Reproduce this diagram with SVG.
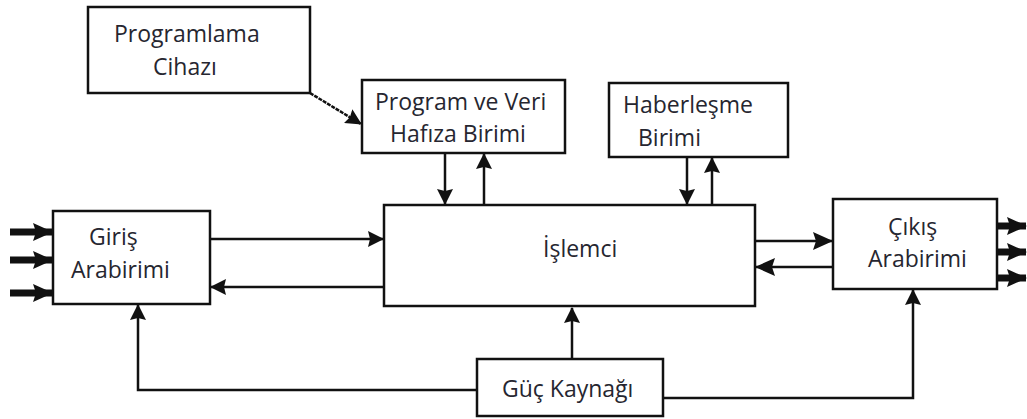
<svg xmlns="http://www.w3.org/2000/svg" width="1027" height="419" viewBox="0 0 1027 419">
<style>
.box{fill:#fff;stroke:#111;stroke-width:2.5}
.t{font-family:"Open Sans","Noto Sans",sans-serif;font-size:23px;fill:#262630}
.c{fill:none;stroke:#111;stroke-width:2.5}
.th{fill:none;stroke:#111;stroke-width:7}
</style>
<defs>
<marker id="a" markerUnits="userSpaceOnUse" markerWidth="16" markerHeight="16" viewBox="0 0 16 16" refX="15" refY="8" orient="auto">
<path d="M0,0 L16,8 L0,16 L2,8 z" fill="#111"/>
</marker>
<marker id="b" markerUnits="userSpaceOnUse" markerWidth="20" markerHeight="18" viewBox="0 0 20 18" refX="19" refY="9" orient="auto">
<path d="M0,0 L20,9 L0,18 L3,9 z" fill="#111"/>
</marker>
</defs>
<rect width="1027" height="419" fill="#fff"/>
<g id="connectors">
<line class="c" x1="310" y1="93" x2="361" y2="124" stroke-dasharray="4,1" marker-end="url(#a)"/>
<line class="c" x1="445" y1="153" x2="445" y2="204" marker-end="url(#a)"/>
<line class="c" x1="484" y1="205" x2="484" y2="154" marker-end="url(#a)"/>
<line class="c" x1="687" y1="157" x2="687" y2="204" marker-end="url(#a)"/>
<line class="c" x1="712" y1="205" x2="712" y2="158" marker-end="url(#a)"/>
<line class="c" x1="210" y1="239" x2="383" y2="239" marker-end="url(#a)"/>
<line class="c" x1="384" y1="287" x2="211" y2="287" marker-end="url(#a)"/>
<line class="c" x1="755" y1="241" x2="832" y2="241" marker-end="url(#b)"/>
<line class="c" x1="833" y1="267" x2="756" y2="267" marker-end="url(#b)"/>
<line class="c" x1="572" y1="359" x2="572" y2="308" marker-end="url(#a)"/>
<polyline class="c" points="477,390 138,390 138,305" marker-end="url(#a)"/>
<polyline class="c" points="663,398 913,398 913,290" marker-end="url(#a)"/>
<line class="th" x1="10" y1="232" x2="52" y2="232" marker-end="url(#b)"/>
<line class="th" x1="10" y1="260" x2="52" y2="260" marker-end="url(#b)"/>
<line class="th" x1="10" y1="293" x2="52" y2="293" marker-end="url(#b)"/>
<line class="th" x1="997" y1="226" x2="1026" y2="226" marker-end="url(#b)"/>
<line class="th" x1="997" y1="252" x2="1026" y2="252" marker-end="url(#b)"/>
<line class="th" x1="997" y1="278" x2="1026" y2="278" marker-end="url(#b)"/>
</g>
<g id="programlama">
<rect class="box" x="88" y="7" width="222" height="86"/>
<text class="t" x="114" y="42">Programlama</text>
<text class="t" x="153" y="75">Cihazı</text>
</g>
<g id="pvv">
<rect class="box" x="362" y="80" width="203" height="73"/>
<text class="t" x="375" y="110">Program ve Veri</text>
<text class="t" x="390" y="142">Hafıza Birimi</text>
</g>
<g id="haberlesme">
<rect class="box" x="609" y="83" width="179" height="74"/>
<text class="t" x="623" y="113">Haberleşme</text>
<text class="t" x="638" y="146">Birimi</text>
</g>
<g id="islemci">
<rect class="box" x="384" y="205" width="371" height="101"/>
<text class="t" x="543" y="257">İşlemci</text>
</g>
<g id="giris">
<rect class="box" x="53" y="211" width="157" height="93"/>
<text class="t" x="89" y="245">Giriş</text>
<text class="t" x="71" y="278">Arabirimi</text>
</g>
<g id="cikis">
<rect class="box" x="833" y="199" width="164" height="90"/>
<text class="t" x="888" y="235">Çıkış</text>
<text class="t" x="868" y="267">Arabirimi</text>
</g>
<g id="guc">
<rect class="box" x="477" y="359" width="186" height="57"/>
<text class="t" x="502" y="397">Güç Kaynağı</text>
</g>
</svg>
